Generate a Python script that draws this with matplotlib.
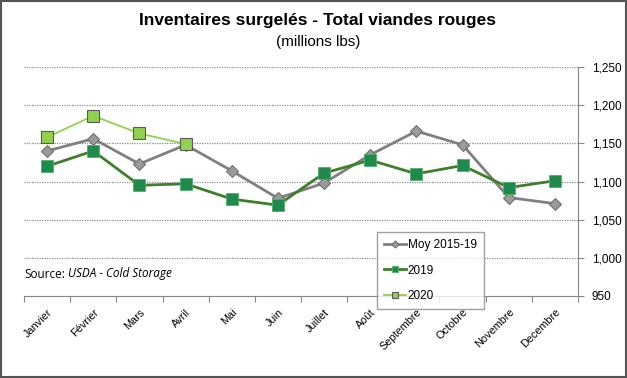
import matplotlib
matplotlib.use("Agg")
import matplotlib.pyplot as plt
from matplotlib.patches import Rectangle
from matplotlib.transforms import offset_copy

# --- data ---
months = ["Janvier", "Février", "Mars", "Avril", "Mai", "Juin", "Juillet",
          "Août", "Septembre", "Octobre", "Novembre", "Decembre"]
moy_2015_19 = [1140, 1156, 1123, 1148, 1114, 1078, 1098, 1135, 1166, 1148, 1079, 1071]
y2019 = [1120, 1140, 1095, 1097, 1077, 1069, 1111, 1128, 1110, 1121, 1092, 1101]
y2020 = [1158, 1186, 1163, 1149]
y_ticks = [950, 1000, 1050, 1100, 1150, 1200, 1250]

plt.rcParams['font.family'] = ['Liberation Sans', 'DejaVu Sans']

fig = plt.figure(figsize=(6.27, 3.78), dpi=100)
ax = fig.add_axes([24 / 627, 1 - 296 / 378, 554 / 627, 229 / 378])

x = list(range(len(months)))
ax.plot(x, moy_2015_19, color="#808080", lw=2, marker="D", ms=6,
        mfc="#9a9a9a", mec="#707070", mew=0.8, label="Moy 2015-19", zorder=3)
ax.plot(x, y2019, color="#3f7f2a", lw=2, marker="s", ms=8,
        mfc="#1f8a4c", mec="#4fae6e", mew=0.6, label="2019", zorder=4)
ax.plot(x[:len(y2020)], y2020, color="#92d050", lw=1.3, marker="s", ms=8,
        mfc="#92d050", mec="#5a5a5a", mew=0.8, label="2020", zorder=5)

ax.set_xlim(-0.5, len(months) - 0.5)
ax.set_ylim(950, 1250)
ax.set_yticks(y_ticks)
ax.set_yticklabels([f"{v:,}" for v in y_ticks], fontsize=8.5)
ax.yaxis.tick_right()
ax.tick_params(axis="y", length=4, color="#888888", pad=6)
for v in y_ticks[1:]:
    ax.axhline(v, color="#8c8c8c", lw=0.9, ls=(0, (1, 1)), zorder=1)

ax.set_xticks([i - 0.5 for i in range(len(months) + 1)])
ax.set_xticklabels([])
ax.set_xticks(x, minor=True)
ax.set_xticklabels(months, minor=True, rotation=45, ha="right",
                   rotation_mode="anchor", fontsize=7.8)
ax.tick_params(axis="x", which="major", length=4, color="#888888", direction="out")
ax.tick_params(axis="x", which="minor", length=0, pad=8)

for side in ["top", "left"]:
    ax.spines[side].set_visible(False)
ax.spines["right"].set_color("#888888")
ax.spines["bottom"].set_color("#888888")

fig.text(0.507, 0.945, "Inventaires surgelés - Total viandes rouges",
         ha="center", va="center", fontsize=12.5, fontweight="bold")
fig.text(0.507, 0.888, "(millions lbs)", ha="center", va="center", fontsize=11)

# "Source:" upright, then the rest in italics right after it
src = fig.text(24 / 627, 1 - 274 / 378, "Source:", fontsize=8.5, va="center",
               family=["Open Sans", "DejaVu Sans"])
fig.canvas.draw()
w = src.get_window_extent().width
fig.text(24 / 627, 1 - 274 / 378, "USDA - Cold Storage", fontsize=8.5,
         va="center", style="italic", family=["Open Sans", "DejaVu Sans"],
         transform=offset_copy(fig.transFigure, fig=fig, x=w + 3, y=0, units="dots"))

leg = fig.legend(loc="upper left", bbox_to_anchor=(371 / 627, 1 - 226 / 378),
                 fontsize=8.5, frameon=True, fancybox=False, edgecolor="#888888",
                 labelspacing=1.15, handlelength=1.9, handletextpad=0.1,
                 borderpad=0.6, markerscale=0.6)
leg.get_frame().set_linewidth(1)

fig.patches.append(Rectangle((0.002, 0.003), 0.996, 0.994, transform=fig.transFigure,
                             fill=False, edgecolor="#555555", lw=1.5))

fig.savefig("out.png", dpi=100)
